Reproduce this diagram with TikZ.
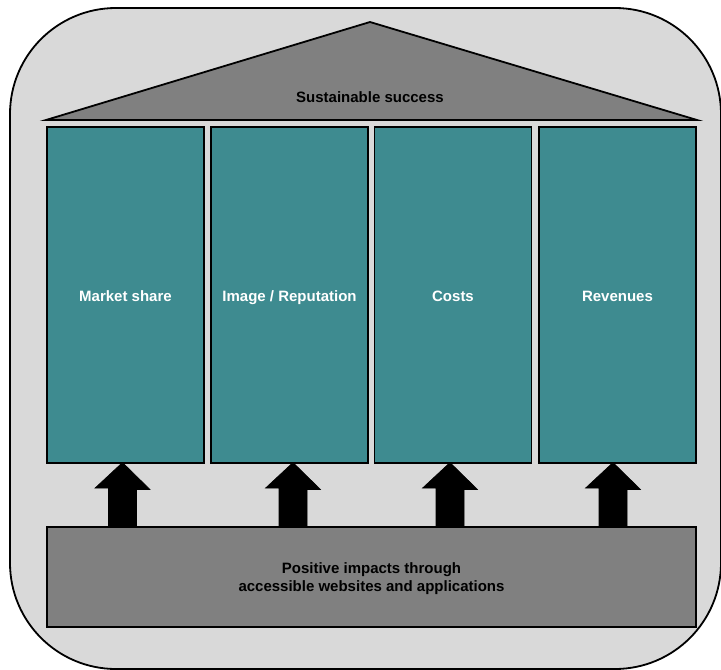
\documentclass[tikz,border=0pt]{standalone}
\usepackage{fontspec}
\setmainfont{Liberation Sans}
\begin{document}
\begin{tikzpicture}[x=1pt,y=-1pt,
  pillar/.style={draw=black,line width=1.8pt,fill=teal0,minimum width=157pt,minimum height=336pt,inner sep=0pt,text=white,text height=14pt,text depth=2pt,font=\fontsize{15}{18}\selectfont\bfseries},
  slab/.style={draw=black,line width=1.8pt,fill=gray0,inner sep=0pt},
  lbl/.style={font=\fontsize{15}{18}\selectfont\bfseries,text=black,align=center},
  uparrow/.style={fill=black,draw=black,line width=0.6pt,line join=miter}]
\definecolor{teal0}{HTML}{3E8B90}
\definecolor{gray0}{HTML}{808080}
\definecolor{bg0}{HTML}{D9D9D9}
\useasboundingbox (0,0) rectangle (721,670);
\fill[white] (0,0) rectangle (721,670);
% outer frame
\draw[fill=bg0,line width=1.8pt,rounded corners=106pt] (10,8) rectangle (721,669);
% roof
\coordinate (apex) at (370,22);
\coordinate (rl) at (46,120);
\coordinate (rr) at (697,120);
\draw[slab,line join=miter] (rl) -- (apex) -- (rr) -- cycle;
\node[lbl] (roof) at (370,97) {Sustainable success};
% pillars
\node[pillar] (p1) at (125.5,295) {Market share};
\node[pillar] (p2) at (289.5,295) {Image / Reputation};
\node[pillar] (p3) at (453,295) {Costs};
\node[pillar] (p4) at (617.5,295) {Revenues};
% base
\node[slab,minimum width=649pt,minimum height=100pt] (base) at (371.5,577) {};
\node[lbl] (basetext) at ([yshift=-1.5pt]base.center) {Positive impacts through\\accessible websites and applications};
% arrows
\foreach \x [count=\i] in {122.5,293,450,613}{
  \coordinate (t\i) at (\x,462.5);
  \fill[uparrow] (t\i) -- ++(27.5,27) -- ++(-13.5,0) |- (base.north -| t\i) -- ++(-14,0) -- ++(0,-38) -- ++(-13.5,0) -- cycle;
}
\end{tikzpicture}
\end{document}
